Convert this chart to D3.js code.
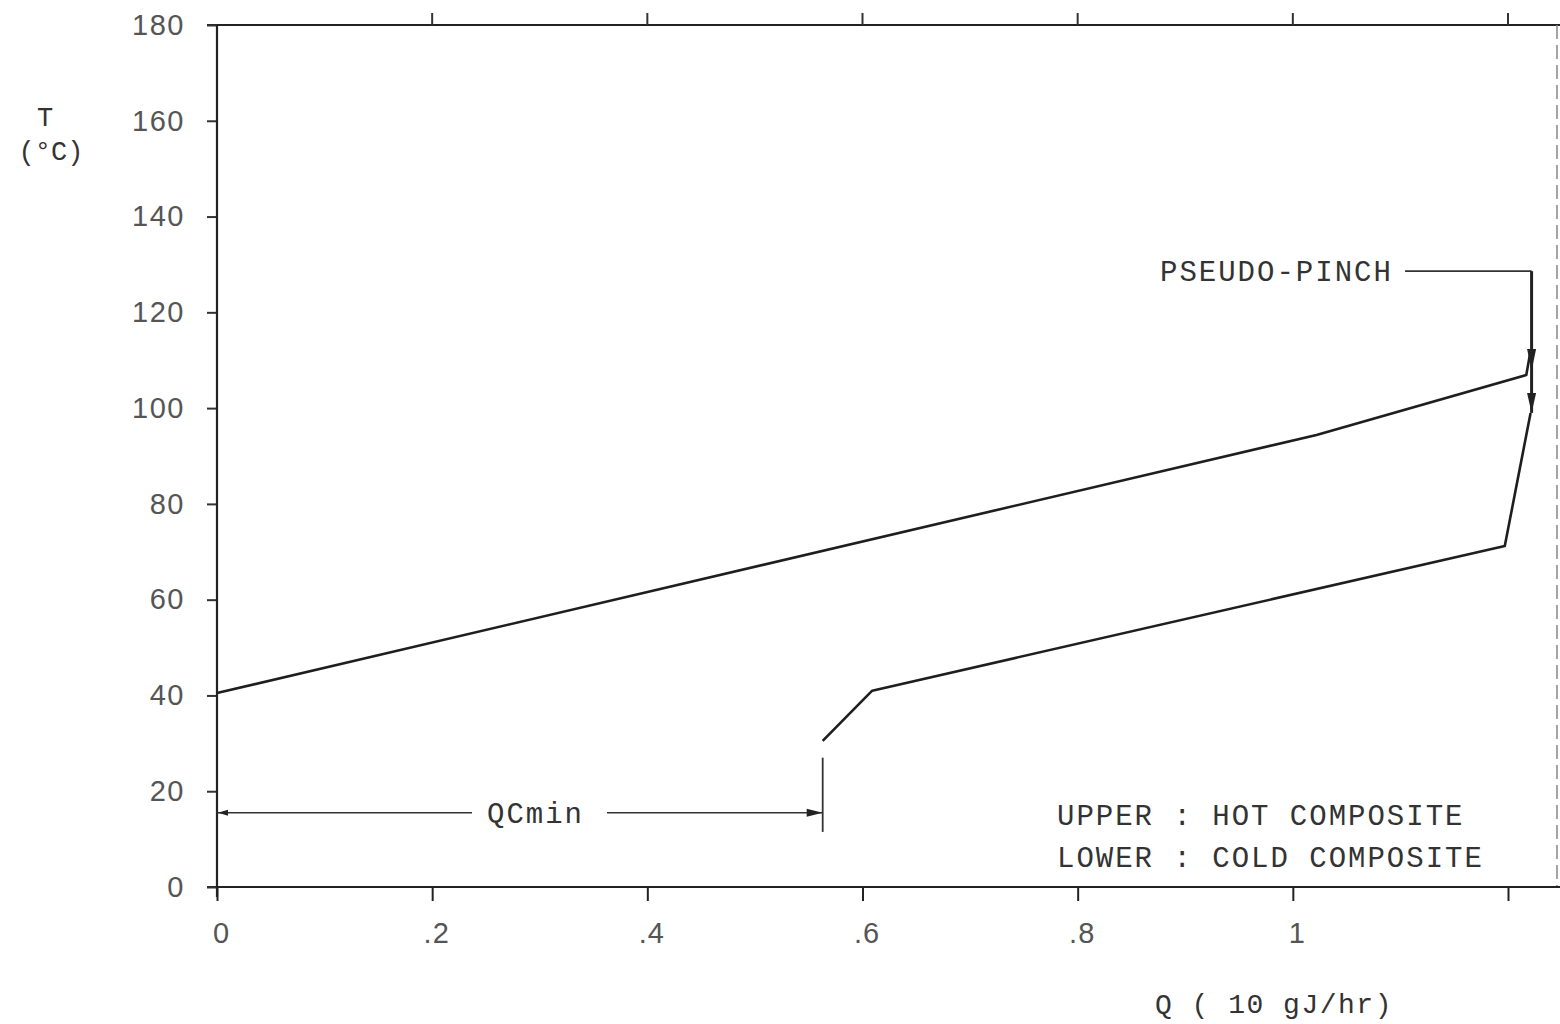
<!DOCTYPE html>
<html>
<head>
<meta charset="utf-8">
<script src="https://cdn.jsdelivr.net/npm/d3@7"></script>
<style>
  body { margin: 0; background: #fff; }
  .mono { font-family: "Liberation Mono", "DejaVu Sans Mono", monospace; fill: #333; }
</style>
</head>
<body>
<svg id="chart" width="1560" height="1024"></svg>
<script>
// axis ticks
const tempTicks = [0, 20, 40, 60, 80, 100, 120, 140, 160, 180];
const qTicks = [0, 0.2, 0.4, 0.6, 0.8, 1, 1.2];
const qTickLabels = ["0", ".2", ".4", ".6", ".8", "1", ""];

// hot composite curve (upper)
const hotQ = [0, 1.022, 1.217, 1.221];
const hotT = [40.5, 94.4, 106.9, 112];

// cold composite curve (lower)
const coldQ = [0.563, 0.609, 1.197, 1.221];
const coldT = [30.5, 41, 71.2, 99];

// annotations
const qcminT = 15.5;
const pinchLabelT = 128.6;

let svg = d3.select("#chart");
svg.append("rect").attr("width", 1560).attr("height", 1024).attr("fill", "#fff");

let x = d3.scaleLinear().domain([0, 1.2]).range([217, 1508]);
let y = d3.scaleLinear().domain([0, 180]).range([887, 25]);

// frame lines (top border and scanned right edge)
svg.append("line")
  .attr("x1", 207).attr("x2", 1560)
  .attr("y1", y(180)).attr("y2", y(180))
  .attr("stroke", "#222").attr("stroke-width", 2);
svg.append("line")
  .attr("x1", 1557).attr("x2", 1557)
  .attr("y1", y(180)).attr("y2", y(0))
  .attr("stroke", "#888").attr("stroke-width", 1.5)
  .attr("stroke-dasharray", "14,6");

// top ticks pointing up
svg.append("g")
  .selectAll("line")
  .data(qTicks.slice(1))
  .enter()
  .append("line")
  .attr("x1", (d) => x(d)).attr("x2", (d) => x(d))
  .attr("y1", y(180) - 12).attr("y2", y(180))
  .attr("stroke", "#333").attr("stroke-width", 2);

// x axis
let xAxis = svg.append("g")
  .attr("transform", "translate(0," + y(0) + ")")
  .call(d3.axisBottom(x)
    .tickValues(qTicks)
    .tickFormat((d, i) => qTickLabels[i])
    .tickSize(14)
    .tickPadding(21)
    .tickSizeOuter(0));
xAxis.select(".domain").remove();
xAxis.append("line")
  .attr("x1", 207).attr("x2", 1560)
  .attr("stroke", "#222").attr("stroke-width", 2.2);
xAxis.selectAll(".tick line").attr("stroke", "#222").attr("stroke-width", 2);
xAxis.selectAll(".tick text")
  .attr("dx", 4)
  .style("font-family", "'Liberation Sans', Arial, sans-serif")
  .style("font-size", "29px")
  .style("letter-spacing", "1px")
  .attr("fill", "#555");

// y axis
let yAxis = svg.append("g")
  .attr("transform", "translate(" + x(0) + ",0)")
  .call(d3.axisLeft(y)
    .tickValues(tempTicks)
    .tickSize(10)
    .tickPadding(22)
    .tickSizeOuter(0));
yAxis.select(".domain").remove();
yAxis.append("line")
  .attr("y1", y(180)).attr("y2", y(0) + 10)
  .attr("stroke", "#222").attr("stroke-width", 2.2);
yAxis.selectAll(".tick line").attr("stroke", "#333").attr("stroke-width", 2);
yAxis.selectAll(".tick text")
  .style("font-family", "'Liberation Sans', Arial, sans-serif")
  .style("font-size", "29px")
  .style("letter-spacing", "1.5px")
  .attr("fill", "#555");

// composite curves
let line = d3.line()
  .x((d) => x(d[0]))
  .y((d) => y(d[1]));

let hotData = hotQ.map((q, i) => [q, hotT[i]]);
let coldData = coldQ.map((q, i) => [q, coldT[i]]);

[hotData, coldData].forEach(function (data) {
  svg.append("path")
    .datum(data)
    .attr("fill", "none")
    .attr("stroke", "#1e1e1e")
    .attr("stroke-width", 2.6)
    .attr("stroke-linejoin", "round")
    .attr("d", line);
});

// arrowhead helper (tip at px,py, pointing in direction angle)
function arrowHead(px, py, angle, len, half) {
  let c = Math.cos(angle), s = Math.sin(angle);
  let bx = px - c * len, by = py - s * len;
  let pts = [
    [px, py],
    [bx - s * half, by + c * half],
    [bx + s * half, by - c * half],
  ];
  svg.append("path")
    .attr("d", "M" + pts.map((p) => p.join(",")).join("L") + "Z")
    .attr("fill", "#222");
}

// QCmin dimension
let qcY = y(qcminT);
let qcX = x(coldQ[0]);
svg.append("line")
  .attr("x1", x(0)).attr("x2", 472)
  .attr("y1", qcY).attr("y2", qcY)
  .attr("stroke", "#333").attr("stroke-width", 1.5);
svg.append("line")
  .attr("x1", 607).attr("x2", qcX)
  .attr("y1", qcY).attr("y2", qcY)
  .attr("stroke", "#333").attr("stroke-width", 1.5);
arrowHead(qcX, qcY, 0, 16, 4);
arrowHead(x(0) + 1, qcY, Math.PI, 10, 3);
svg.append("line")
  .attr("x1", qcX).attr("x2", qcX)
  .attr("y1", y(27)).attr("y2", y(11.5))
  .attr("stroke", "#333").attr("stroke-width", 1.8);
svg.append("text")
  .attr("class", "mono")
  .attr("x", 487).attr("y", qcY + 10)
  .style("font-size", "29px")
  .style("letter-spacing", "2px")
  .text("QCmin");

// pseudo-pinch pointer
let pinchX = x(hotQ[hotQ.length - 1]) + 1;
let pinchY = y(pinchLabelT);
svg.append("line")
  .attr("x1", 1405).attr("x2", pinchX)
  .attr("y1", pinchY).attr("y2", pinchY)
  .attr("stroke", "#333").attr("stroke-width", 1.8);
svg.append("line")
  .attr("x1", pinchX).attr("x2", pinchX)
  .attr("y1", pinchY).attr("y2", y(coldT[coldT.length - 1]))
  .attr("stroke", "#222").attr("stroke-width", 3);
arrowHead(pinchX, y(hotT[2]) - 4, Math.PI / 2, 22, 4.5);
arrowHead(pinchX, y(coldT[coldT.length - 1]), Math.PI / 2, 20, 4.5);
svg.append("text")
  .attr("class", "mono")
  .attr("x", 1160).attr("y", pinchY + 10)
  .style("font-size", "29px")
  .style("letter-spacing", "2px")
  .text("PSEUDO-PINCH");

// legend
const legendLines = ["UPPER : HOT COMPOSITE", "LOWER : COLD COMPOSITE"];
svg.append("g")
  .selectAll("text")
  .data(legendLines)
  .enter()
  .append("text")
  .attr("class", "mono")
  .attr("x", 1057)
  .attr("y", (d, i) => 825 + i * 42)
  .style("font-size", "29px")
  .style("letter-spacing", "2px")
  .text((d) => d);

// axis titles
svg.append("text")
  .attr("class", "mono")
  .attr("x", 45).attr("y", 126)
  .attr("text-anchor", "middle")
  .style("font-size", "27px")
  .text("T");
svg.append("text")
  .attr("class", "mono")
  .attr("x", 51).attr("y", 160)
  .attr("text-anchor", "middle")
  .style("font-size", "27px")
  .style("letter-spacing", "0px")
  .text("(°C)");
svg.append("text")
  .attr("class", "mono")
  .attr("x", 1155).attr("y", 1013)
  .style("font-size", "28px")
  .style("letter-spacing", "1.5px")
  .text("Q ( 10 gJ/hr)");
</script>
</body>
</html>
